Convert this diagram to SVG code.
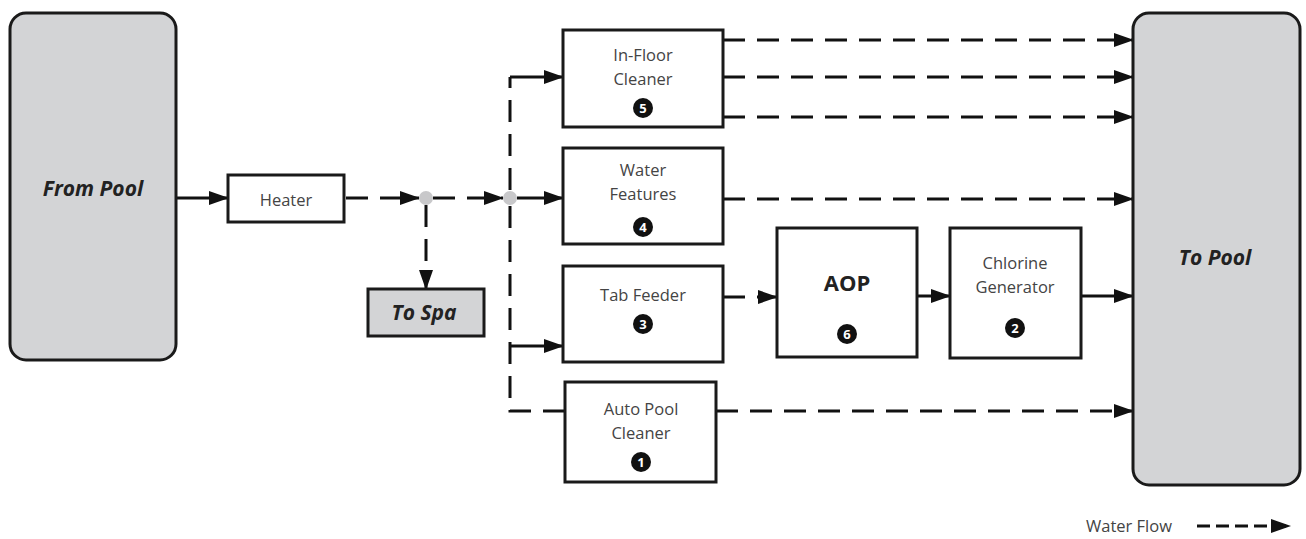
<svg xmlns="http://www.w3.org/2000/svg" width="1306" height="539" viewBox="0 0 1306 539">
<defs>
<marker id="ah" markerUnits="userSpaceOnUse" markerWidth="20" markerHeight="14" refX="19" refY="7" orient="auto"><path d="M0,0 L20,7 L0,14 z" fill="#111"/></marker>
<style>
.pool{fill:#d3d4d6;stroke:#1a1a1a;stroke-width:3}
.box{fill:#fff;stroke:#1a1a1a;stroke-width:3}
.spa{fill:#d3d4d6;stroke:#1a1a1a;stroke-width:3}
.t{font-family:"Open Sans","Noto Sans",sans-serif;font-size:16.5px;fill:#444;text-anchor:middle}
.big{font-family:"Open Sans","Noto Sans",sans-serif;font-size:21px;font-weight:bold;font-style:italic;fill:#222;text-anchor:middle}
.aop{font-family:"Open Sans","Noto Sans",sans-serif;font-size:22px;font-weight:bold;fill:#222;text-anchor:middle}
.b{fill:#111}
.bn{font-family:"Open Sans","Noto Sans",sans-serif;font-size:13px;font-weight:bold;fill:#fff;text-anchor:middle}
.s{fill:none;stroke:#111;stroke-width:3}
.d{fill:none;stroke:#111;stroke-width:3;stroke-dasharray:22 12}
.j{fill:#c8c8ca}
</style>
</defs>
<g id="connectors">
<line class="s" x1="176" y1="198" x2="228" y2="198" marker-end="url(#ah)"/>
<line class="d" x1="346" y1="198" x2="419" y2="198" stroke-dasharray="20 12" marker-end="url(#ah)"/>
<line class="d" x1="433" y1="198" x2="503" y2="198" stroke-dasharray="12 10" marker-end="url(#ah)"/>
<line class="d" x1="426" y1="205" x2="426" y2="289" stroke-dasharray="32 10" marker-end="url(#ah)"/>
<line class="s" x1="517" y1="198" x2="563" y2="198" marker-end="url(#ah)"/>
<path class="d" d="M510,190 V77" stroke-dasharray="22 12"/>
<path class="s" d="M510,77 H563" marker-end="url(#ah)"/>
<path class="d" d="M510,206 V411 H565" stroke-dasharray="22 12"/>
<line class="s" x1="510" y1="346" x2="563" y2="346" marker-end="url(#ah)"/>
<line class="d" x1="723" y1="40" x2="1133" y2="40" marker-end="url(#ah)"/>
<line class="d" x1="723" y1="77" x2="1133" y2="77" marker-end="url(#ah)"/>
<line class="d" x1="723" y1="117" x2="1133" y2="117" marker-end="url(#ah)"/>
<line class="d" x1="723" y1="199" x2="1133" y2="199" marker-end="url(#ah)"/>
<line class="d" x1="723" y1="297" x2="777" y2="297" stroke-dasharray="12 12" marker-end="url(#ah)"/>
<line class="s" x1="917" y1="296" x2="950" y2="296" marker-end="url(#ah)"/>
<line class="s" x1="1081" y1="296" x2="1133" y2="296" marker-end="url(#ah)"/>
<line class="d" x1="716" y1="411" x2="1133" y2="411" marker-end="url(#ah)"/>
<circle class="j" cx="426" cy="198" r="7"/>
<circle class="j" cx="510" cy="198" r="7"/>
</g>
<g id="from-pool"><rect class="pool" x="10" y="13" width="166" height="347" rx="16"/><text class="big" x="93" y="196">From Pool</text></g>
<g id="heater"><rect class="box" x="228" y="175" width="116" height="47"/><text class="t" x="286" y="206">Heater</text></g>
<g id="to-spa"><rect class="spa" x="368" y="289" width="116" height="47"/><text class="big" x="424" y="320">To Spa</text></g>
<g id="in-floor"><rect class="box" x="563" y="30" width="160" height="97"/><text class="t" x="643" y="61">In-Floor</text><text class="t" x="643" y="85">Cleaner</text><circle class="b" cx="643" cy="108" r="10"/><text class="bn" x="643" y="112.5">5</text></g>
<g id="water-features"><rect class="box" x="563" y="148" width="160" height="96"/><text class="t" x="643" y="176">Water</text><text class="t" x="643" y="200">Features</text><circle class="b" cx="643" cy="227" r="10"/><text class="bn" x="643" y="231.5">4</text></g>
<g id="tab-feeder"><rect class="box" x="563" y="266" width="160" height="96"/><text class="t" x="643" y="301">Tab Feeder</text><circle class="b" cx="643" cy="324" r="10"/><text class="bn" x="643" y="328.5">3</text></g>
<g id="auto-pool-cleaner"><rect class="box" x="565" y="382" width="151" height="100"/><text class="t" x="641" y="415">Auto Pool</text><text class="t" x="641" y="439">Cleaner</text><circle class="b" cx="641" cy="462" r="10"/><text class="bn" x="641" y="466.5">1</text></g>
<g id="aop"><rect class="box" x="777" y="228" width="140" height="129"/><text class="aop" x="847" y="291">AOP</text><circle class="b" cx="847" cy="334" r="10"/><text class="bn" x="847" y="338.5">6</text></g>
<g id="chlorine-generator"><rect class="box" x="950" y="228" width="131" height="130"/><text class="t" x="1015" y="269">Chlorine</text><text class="t" x="1015" y="293">Generator</text><circle class="b" cx="1015" cy="328" r="10"/><text class="bn" x="1015" y="332.5">2</text></g>
<g id="to-pool"><rect class="pool" x="1133" y="13" width="167" height="472" rx="16"/><text class="big" x="1215" y="265">To Pool</text></g>
<g id="legend"><text class="t" x="1129" y="532" font-size="15">Water Flow</text><line class="s" x1="1197" y1="526" x2="1290" y2="526" stroke-dasharray="13 6" marker-end="url(#ah)"/></g>
</svg>
